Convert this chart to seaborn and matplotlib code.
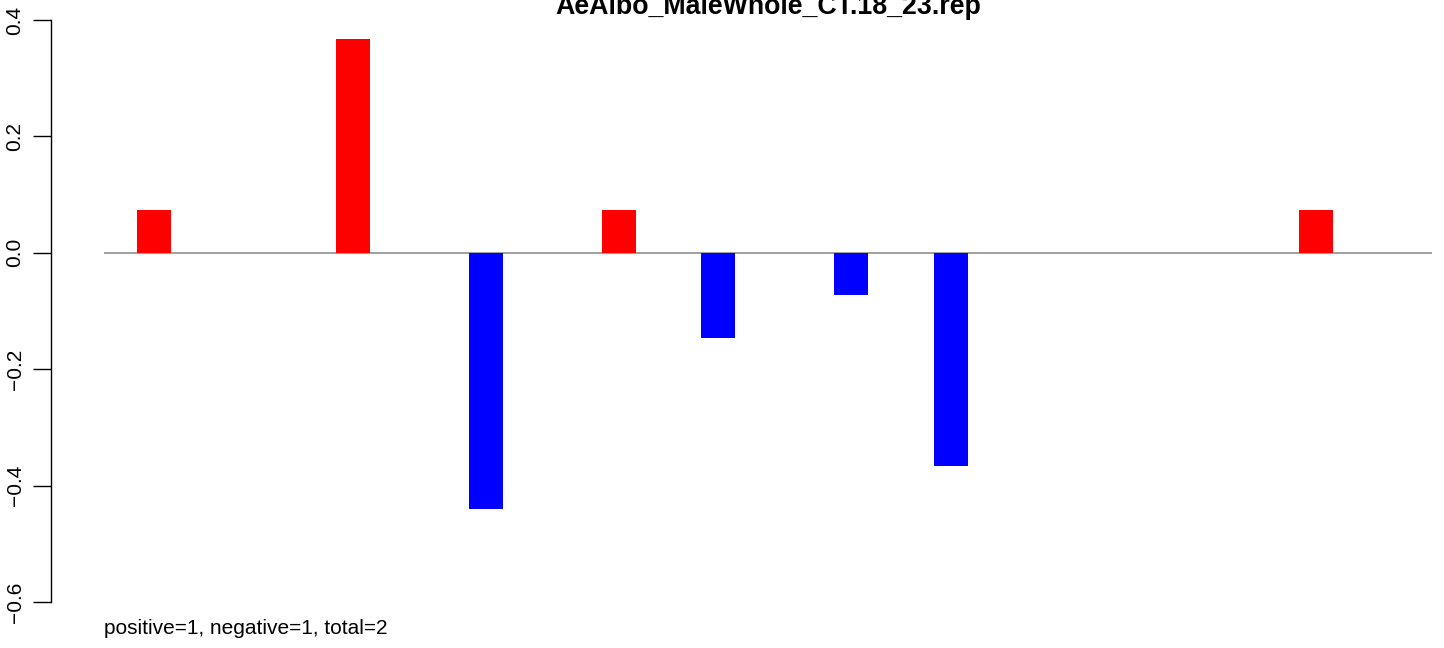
import numpy as np
import pandas as pd
import matplotlib
matplotlib.use("Agg")
import matplotlib.pyplot as plt
import seaborn as sns

# Data
positions = [1, 7, 11, 15, 18, 22, 25, 36]
values = [0.0733, 0.3667, -0.44, 0.0733, -0.1467, -0.0733, -0.3667, 0.0733]
title = "AeAlbo_MaleWhole_CT.18_23.rep"
footnote = "positive=1, negative=1, total=2"
yticks = [-0.6, -0.4, -0.2, 0.0, 0.2, 0.4]

df = pd.DataFrame({"pos": positions, "value": values})
df["sign"] = np.where(df["value"] > 0, "pos", "neg")

sns.set_style("white")
plt.rcParams["font.family"] = ["Liberation Sans", "DejaVu Sans"]
plt.rcParams["text.color"] = "black"
plt.rcParams["ytick.color"] = "black"
plt.rcParams["ytick.labelcolor"] = "black"

W, H = 1444, 648
fig = plt.figure(figsize=(W / 100, H / 100), dpi=100)
ax = fig.add_axes([51 / W, (H - 602) / H, (W - 51) / W, 582 / H])

sns.barplot(data=df, x="pos", y="value", hue="sign", native_scale=True,
            palette={"pos": "#FF0000", "neg": "#0000FF"}, dodge=False,
            width=1.02 / 3, saturation=1, linewidth=0, errorbar=None,
            legend=False, ax=ax)

# zero line across the bar slots
ax.hlines(0, -0.5, 39.5, color="#999999", lw=1.3, zorder=0)

px = 33.2
ax.set_xlim(1 + (51 - 154) / px, 1 + (W - 154) / px)
ax.set_ylim(-0.6, 0.4)
ax.set_xticks([])
ax.set_xlabel("")
ax.set_ylabel("")

for s in ["top", "right", "bottom"]:
    ax.spines[s].set_visible(False)
ax.spines["left"].set_bounds(-0.6, 0.4)
ax.spines["left"].set_linewidth(1.0)
ax.spines["left"].set_color("black")

ax.set_yticks(yticks)
ax.set_yticklabels([f"{t:.1f}".replace("-", "\u2212") for t in yticks],
                   rotation=90, va="center", fontsize=15)
ax.tick_params(axis="y", direction="out", length=13, width=1.0, pad=6,
               color="black", left=True)

fig.text(768 / W, 1 - 14 / H, title, ha="center", va="baseline",
         fontsize=19.3, fontweight="bold")
fig.text(104 / W, 1 - 634 / H, footnote, ha="left", va="baseline", fontsize=15)

fig.savefig("out.png", dpi=100)
